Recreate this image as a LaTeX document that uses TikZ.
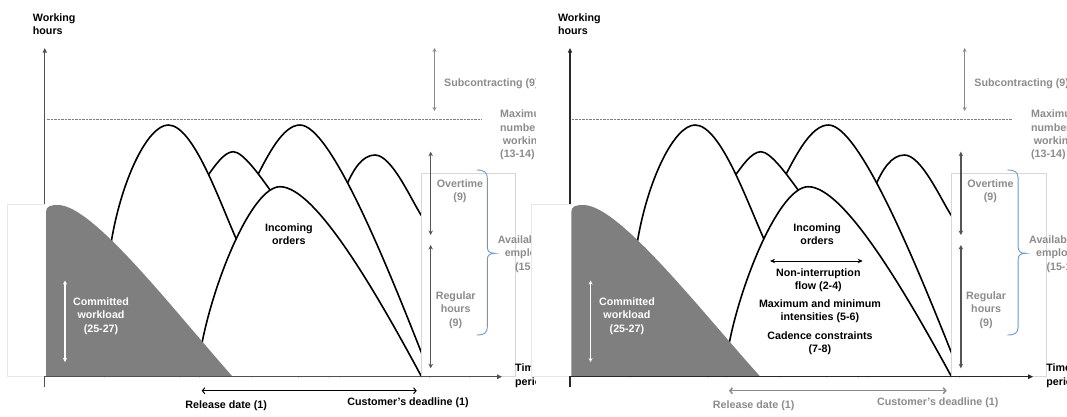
\documentclass[tikz,border=0pt]{standalone}
\usepackage{fontspec}
\setmainfont{Liberation Sans}
\usetikzlibrary{arrows.meta}
\definecolor{wfill}{RGB}{127,127,127}
\definecolor{gtext}{RGB}{140,140,140}
\definecolor{darkarr}{RGB}{85,85,85}
\definecolor{bracec}{RGB}{108,152,212}
\definecolor{faintc}{RGB}{215,215,215}
\definecolor{fainterc}{RGB}{232,232,232}
\definecolor{axisL}{RGB}{80,80,80}
\definecolor{axisR}{RGB}{40,40,40}
\tikzset{
  lbl/.style={font=\bfseries\fontsize{10.7}{13.3}\selectfont, align=center, inner sep=0pt},
  glbl/.style={lbl, text=gtext},
  bell/.style={line width=1.6pt, draw=black, fill=white, line join=round},
  yaxisline/.style={line width=1.3pt, -{Triangle[length=4.5pt,width=4pt]}},
  xaxisline/.style={line width=1.3pt, -{Triangle[length=5pt,width=4.5pt]}},
  dblarrow/.style={line width=1.5pt, draw=darkarr, {Stealth[length=4.5pt,width=4.5pt]}-{Stealth[length=4.5pt,width=4.5pt]}},
  subarrow/.style={line width=1pt, draw=gtext, {Stealth[length=4pt,width=4pt]}-{Stealth[length=4pt,width=4pt]}},
  whitearrow/.style={line width=1.2pt, draw=white, {Stealth[length=4pt,width=4pt]}-{Stealth[length=4pt,width=4pt]}},
  relarrow/.style={{Straight Barb[length=2.5pt,width=6pt]}-{Straight Barb[length=2.5pt,width=6pt]}},
  maxline/.style={draw=gray, line width=0.7pt, dash pattern=on 0.7pt off 0.7pt},
  faintbox/.style={draw=faintc, line width=0.6pt},
  fainterbox/.style={draw=fainterc, line width=0.6pt},
  bracestyle/.style={draw=bracec, line width=0.9pt},
  flowarrow/.style={line width=1pt, {Stealth[length=5pt,width=4.5pt]}-{Stealth[length=5pt,width=4.5pt]}}
}
% #1 release colour, #2 axis colour, #3 release arrow width
\newcommand\drawpanel[3]{%
\begin{scope}
\clip (-20,-5) rectangle (535,425);
% y axis
\coordinate (ybot) at (44.7,387);
\coordinate (ytop) at (44.7,48);
\draw[yaxisline, #2] (ybot) -- (ytop);
% maximum line
\coordinate (dotL) at (46.5,119.3);
\coordinate (dotR) at (481.7,119.3);
\draw[maxline] (dotL) -- (dotR);
% incoming-order curves, back to front
\draw[bell] (340,377) -- (345.9,186.8) .. controls (353,170) and (362,155) .. (375,155) .. controls (392,155) and (411.7,201) .. (421.7,216) -- (470,377);
\draw[bell] (252,377) -- (257.1,176.2) .. controls (268,155) and (283,125) .. (300,125) .. controls (330,125) and (385,260) .. (421.7,353.3) -- (430,377);
\draw[bell] (180,377) -- (207.1,176.6) .. controls (214,167) and (224,151.7) .. (233.3,151.7) .. controls (243,151.7) and (260,176) .. (271.2,191.6) -- (330,377);
\draw[bell] (104,377) -- (110.6,245.9) .. controls (120.7,180.6) and (147.7,125) .. (168.3,125) .. controls (193.3,125) and (219.6,201.7) .. (236.7,240) -- (299,377);
\draw[bell] (199,377) -- (201.7,344.6) .. controls (214,280) and (252,186.7) .. (280,186.7) .. controls (315,186.7) and (375,290) .. (421.7,377);
% committed workload
\fill[wfill] (46,376.7) -- (46,212) .. controls (46,206) and (51,205) .. (58,205) .. controls (93,205) and (172.7,309.2) .. (232.7,376.7) -- cycle;
% faint boxes
\draw[faintbox, fill=white] (421.7,173.3) rectangle (515,376.7);
\fill[white] (7,204) rectangle (45.4,376.7);
\draw[fainterbox] (45.4,204) -- (7,204) -- (7,376.7) -- (44.7,376.7);
% x axis
\coordinate (xorig) at (44.05,376.7);
\coordinate (xend) at (502,376.7);
\draw[xaxisline, #2] (xorig) -- (xend);
% arrows
\coordinate (subT) at (434.5,48);
\coordinate (subB) at (434.5,111);
\draw[subarrow] (subT) -- (subB);
\coordinate (otT) at (430.7,151.7);
\coordinate (otB) at (430.7,235);
\draw[dblarrow] (otT) -- (otB);
\coordinate (rgT) at (430.7,245);
\coordinate (rgB) at (430.7,368.3);
\draw[dblarrow] (rgT) -- (rgB);
\coordinate (cwT) at (65,280.5);
\coordinate (cwB) at (65,362);
\draw[whitearrow] (cwT) -- (cwB);
\coordinate (relL) at (201.7,390.7);
\coordinate (relR) at (416.7,390.7);
\draw[relarrow, #1, line width=#3] (relL) -- (relR);
% brace
\draw[bracestyle] (476.7,170) .. controls (484,170) and (487.3,172) .. (487.3,178) -- (487.3,246.5) .. controls (487.3,251.5) and (489.5,253.3) .. (495,253.3) .. controls (489.5,253.3) and (487.3,255.1) .. (487.3,260.1) -- (487.3,327) .. controls (487.3,333) and (484,335) .. (476.7,335);
% labels
\node[lbl, anchor=west, align=left] (wh) at (32.7,24) {Working\\hours};
\node[glbl, anchor=west] (sub) at (444,83.7) {Subcontracting (9)};
\node[glbl, anchor=west, align=left] (maxh) at (500,135) {Maximum\\number of\\\hspace*{2.7pt}working hours\\(13-14)};
\node[glbl] (ot) at (460,191) {Overtime\\(9)};
\node[glbl] (reg) at (455.7,310.2) {Regular\\hours\\(9)};
\node[glbl] (avail) at (532.4,254) {Availability of\\employees\\(15-16)};
\node[lbl, anchor=west, align=left] (time) at (515,375.8) {Time\\period};
\node[lbl] (inc) at (288.8,234.5) {Incoming\\orders};
\node[lbl, text=white] (comm) at (101,316) {Committed\\workload\\(25-27)};
\node[lbl, text=#1] (rel) at (226.2,406) {Release date (1)};
\node[lbl, text=#1] (dead) at (408,402.7) {Customer’s deadline (1)};
\end{scope}%
}
\begin{document}
\begin{tikzpicture}[x=1pt,y=-1pt]
\useasboundingbox (0,0) rectangle (1067,416);
\fill[white] (0,0) rectangle (1067,416);
\begin{scope}[name prefix=L-]
  \drawpanel{black}{axisL}{1pt}
\end{scope}
\begin{scope}[xshift=524.7pt, name prefix=R-]
\begin{scope}[xscale=1.0125]
  \drawpanel{gtext}{axisR}{1.5pt}
  \coordinate (nifL) at (242.3,261);
  \coordinate (nifR) at (333.8,261);
  \draw[flowarrow] (nifL) -- (nifR);
  \node[lbl] (nif) at (290,280.5) {Non-interruption\\flow (2-4)};
  \node[lbl] (mmi) at (291.6,311) {Maximum and minimum\\intensities (5-6)};
  \node[lbl] (cad) at (291.6,343.3) {Cadence constraints\\(7-8)};
\end{scope}
\end{scope}
\end{tikzpicture}
\end{document}
